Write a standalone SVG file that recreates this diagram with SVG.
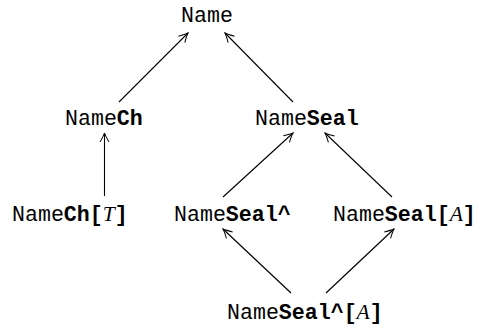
<svg xmlns="http://www.w3.org/2000/svg" width="491" height="326" viewBox="0 0 491 326">
<style>
.t{font-family:"Liberation Mono","DejaVu Sans Mono",monospace;font-size:21.6px;fill:#000}
.b{font-weight:bold}
.m{font-family:"Liberation Serif","DejaVu Serif",serif;font-style:italic}
.e{stroke:#000;stroke-width:1.1;fill:none;marker-end:url(#ah)}
</style>
<defs>
<marker id="ah" markerUnits="userSpaceOnUse" markerWidth="14" markerHeight="14" viewBox="-10 -7 12 14" refX="0" refY="0" orient="auto">
<path d="M-9,-4.5 Q-3,-1 0,0 Q-3,1 -9,4.5" fill="none" stroke="#000" stroke-width="1"/>
</marker>
</defs>
<rect width="491" height="326" fill="#fff"/>
<g id="edges">
<line class="e" x1="119" y1="102" x2="188" y2="33"/>
<line class="e" x1="293" y1="102" x2="225" y2="33"/>
<line class="e" x1="104.5" y1="196" x2="104.5" y2="133"/>
<line class="e" x1="223" y1="197" x2="293" y2="133"/>
<line class="e" x1="392" y1="197" x2="325" y2="133"/>
<line class="e" x1="291" y1="293" x2="223" y2="229"/>
<line class="e" x1="326" y1="293" x2="394" y2="229"/>
</g>
<g id="n-name"><text class="t" x="181" y="22">Name</text></g>
<g id="n-namech"><text class="t" x="65" y="125">Name<tspan class="b">Ch</tspan></text></g>
<g id="n-nameseal"><text class="t" x="255" y="125">Name<tspan class="b">Seal</tspan></text></g>
<g id="n-namechT"><text class="t" x="12" y="221">Name<tspan class="b">Ch[</tspan><tspan class="m">T</tspan><tspan class="b">]</tspan></text></g>
<g id="n-namesealhat"><text class="t" x="174" y="221">Name<tspan class="b">Seal^</tspan></text></g>
<g id="n-namesealA"><text class="t" x="333" y="221">Name<tspan class="b">Seal[</tspan><tspan class="m">A</tspan><tspan class="b">]</tspan></text></g>
<g id="n-namesealhatA"><text class="t" x="227" y="319">Name<tspan class="b">Seal^[</tspan><tspan class="m">A</tspan><tspan class="b">]</tspan></text></g>
</svg>
